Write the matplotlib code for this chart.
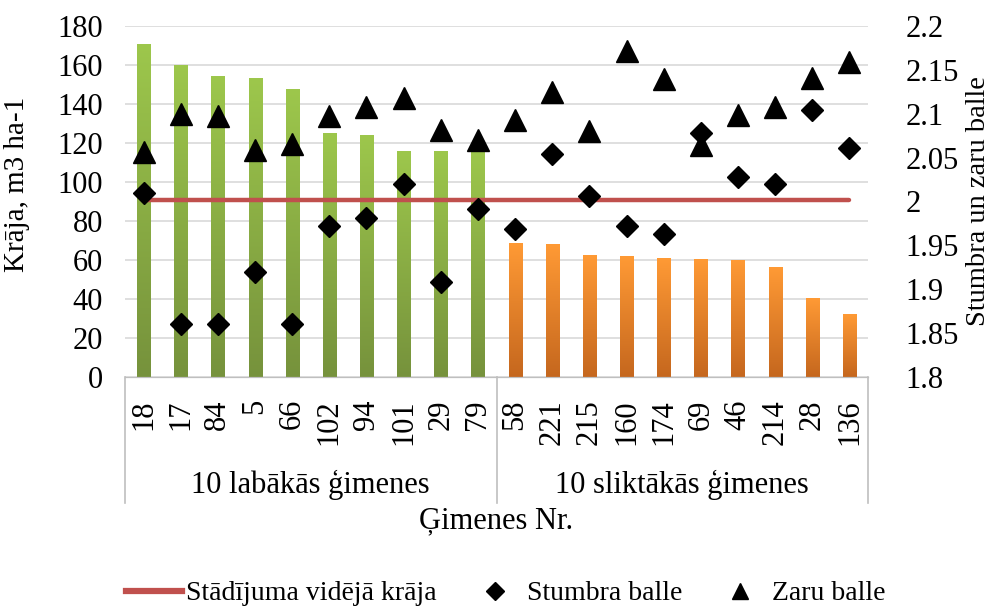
import numpy as np
import matplotlib
matplotlib.use("Agg")
import matplotlib.pyplot as plt
from matplotlib.colors import LinearSegmentedColormap
from matplotlib.lines import Line2D
import matplotlib.transforms as mtransforms

plt.rcParams['font.family'] = ['Liberation Serif', 'DejaVu Serif']

# data
families = ['18', '17', '84', '5', '66', '102', '94', '101', '29', '79',
            '58', '221', '215', '160', '174', '69', '46', '214', '28', '136']
kraja = [170.6, 159.5, 154, 153, 147.2, 125, 123.6, 115.5, 115.5, 115.8,
         68.5, 67.7, 62.2, 62, 61, 60, 59.8, 56.4, 40.2, 31.8]
stumbra = [2.01, 1.86, 1.86, 1.92, 1.86, 1.972, 1.981, 2.02, 1.908, 1.991,
           1.969, 2.054, 2.006, 1.972, 1.963, 2.078, 2.028, 2.02, 2.104, 2.061]
zaru = [2.056, 2.10, 2.097, 2.059, 2.065, 2.098, 2.108, 2.118, 2.081, 2.07,
        2.093, 2.125, 2.08, 2.171, 2.14, 2.064, 2.099, 2.108, 2.141, 2.159]
vid_kraja = 91
groups = ['10 labākās ģimenes', '10 sliktākās ģimenes']

fs = 22
x = np.arange(len(families))

fig = plt.figure(figsize=(9.94, 6.13), dpi=100)
ax = fig.add_axes([125/994, 1-377/613, (868-125)/994, 351/613])
ax2 = ax.twinx()

# bars with vertical gradient
green = LinearSegmentedColormap.from_list('g', ['#76923C', '#9DC74C'])
orange = LinearSegmentedColormap.from_list('o', ['#C5671E', '#FF9A35'])
bw = 0.35
bars = ax.bar(x, kraja, width=bw, color='none', zorder=2)
grad = np.linspace(0, 1, 256).reshape(-1, 1)
for i, b in enumerate(bars):
    cm = green if i < 10 else orange
    ax.imshow(grad, cmap=cm, origin='lower', aspect='auto', zorder=2,
              extent=[b.get_x(), b.get_x()+bw, 0, b.get_height()])

# average line
ax.plot([x[0], x[-1]], [vid_kraja, vid_kraja], color='#C0504D', lw=3.2,
        solid_capstyle='round', zorder=3)

ax2.plot(x, stumbra, 'D', color='black', ms=11.5, ls='none')
ax2.plot(x, zaru, '^', color='black', ms=16, ls='none')

ax.set_xlim(-0.5, 19.5)
ax.set_ylim(0, 180)
ax.set_yticks(np.arange(0, 181, 20))
ax2.set_ylim(1.8, 2.2)
ax2.set_yticks([1.8, 1.85, 1.9, 1.95, 2.0, 2.05, 2.1, 2.15, 2.2])
ax2.set_yticklabels(['1.8', '1.85', '1.9', '1.95', '2', '2.05', '2.1', '2.15', '2.2'])

ax.grid(axis='y', color='#D9D9D9', lw=1.2, zorder=0)
ax.set_axisbelow(True)
for a in (ax, ax2):
    for s in ['top', 'left', 'right']:
        a.spines[s].set_visible(False)
    a.spines['bottom'].set_color('#BFBFBF')
    a.tick_params(length=0, labelsize=fs)
ax.tick_params(axis='y', pad=16)
ax2.tick_params(axis='y', pad=27)

ax.set_xticks(x)
ax.set_xticklabels(families, rotation=90, fontsize=fs)
ax.tick_params(axis='x', pad=16)

# multi-level category lines
trans = mtransforms.blended_transform_factory(ax.transData, ax.transAxes)
for xv in [-0.5, 9.5, 19.5]:
    ax.add_line(Line2D([xv, xv], [0, -0.359], transform=trans, color='#BFBFBF',
                       lw=1.2, clip_on=False))
ax.text(4.5, -0.307, groups[0], transform=trans, ha='center', va='center', fontsize=fs)
ax.text(14.5, -0.307, groups[1], transform=trans, ha='center', va='center', fontsize=fs)
ax.text(9.5, -0.41, 'Ģimenes Nr.', transform=trans, ha='center', va='center', fontsize=fs)

ax.set_ylabel('Krāja, m3 ha-1', fontsize=21)
ax.yaxis.set_label_coords(-0.128, 0.55)
ax2.set_ylabel('Stumbra un zaru balle', fontsize=20.5)
ax2.yaxis.set_label_coords(1.132, 0.5)

handles = [Line2D([], [], color='#C0504D', lw=4.5),
           Line2D([], [], marker='D', color='black', ms=9, ls='none'),
           Line2D([], [], marker='^', color='black', ms=12, ls='none')]
fig.legend(handles, ['Stādījuma vidējā krāja', 'Stumbra balle', 'Zaru balle'],
           loc='lower center', bbox_to_anchor=(0.509, -0.03), ncol=3, frameon=False,
           fontsize=20, handlelength=2.0, handletextpad=0.15, columnspacing=1.1)

fig.savefig('out.png', dpi=100)
